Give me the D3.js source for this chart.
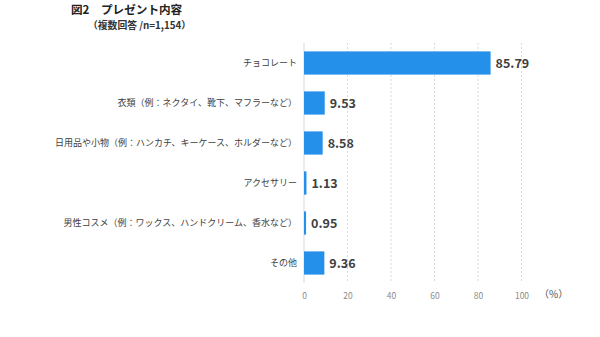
<!DOCTYPE html>
<html><head><meta charset="utf-8">
<script src="https://cdn.jsdelivr.net/npm/d3@7"></script>
<style>
html,body{margin:0;padding:0;background:#fff;}
svg{display:block;font-family:"Noto Sans CJK JP","Noto Sans",sans-serif;}
</style></head>
<body><svg id="c" width="600" height="337"></svg>
<script>
const categories = ["チョコレート","衣類（例：ネクタイ、靴下、マフラーなど）","日用品や小物（例：ハンカチ、キーケース、ホルダーなど）","アクセサリー","男性コスメ（例：ワックス、ハンドクリーム、香水など）","その他"];
const values = [85.79, 9.53, 8.58, 1.13, 0.95, 9.36];
const ticks = [0, 20, 40, 60, 80, 100];
const title = "図2　プレゼント内容";
const subtitle = "（複数回答 /n=1,154）";
const unit = "（%）";

const svg = d3.select("#c");
const x = d3.scaleLinear().domain([0, 100]).range([304, 521.5]);
const y = d3.scaleBand().domain(categories).range([43, 283]).paddingInner(0.42).paddingOuter(0.21);

// gridlines
svg.append("g").selectAll("line").data(ticks.slice(1)).join("line")
  .attr("x1", d => x(d)).attr("x2", d => x(d))
  .attr("y1", 43).attr("y2", 283)
  .attr("stroke", "#d9d9d9").attr("stroke-width", 1).attr("stroke-dasharray", "2,2");

// zero axis line
svg.append("line").attr("x1", x(0)).attr("x2", x(0)).attr("y1", 43).attr("y2", 283)
  .attr("stroke", "#d9d9d9").attr("stroke-width", 1);

// bars
svg.append("g").selectAll("rect").data(values).join("rect")
  .attr("x", x(0)).attr("y", (d, i) => y(categories[i]))
  .attr("width", d => x(d) - x(0)).attr("height", y.bandwidth())
  .attr("fill", "#2490ea");

// value labels
svg.append("g").selectAll("text").data(values).join("text")
  .attr("x", d => x(d) + 5).attr("y", (d, i) => y(categories[i]) + y.bandwidth() / 2)
  .attr("dy", "0.36em").attr("font-size", 12.5).attr("font-weight", "bold")
  .attr("fill", "#404040").text(d => d.toFixed(2));

// category labels
svg.append("g").selectAll("text").data(categories).join("text")
  .attr("x", 297).attr("y", d => y(d) + y.bandwidth() / 2)
  .attr("dy", "0.36em").attr("text-anchor", "end").attr("font-size", 9)
  .attr("fill", "#404040").text(d => d);

// x axis tick labels
const ax = d3.axisBottom(x).tickValues(ticks).tickSize(0).tickPadding(0);
const g = svg.append("g").attr("transform", "translate(0,293)").call(ax);
g.select(".domain").remove();
g.selectAll("text").attr("font-size", 8.5).attr("fill", "#8c8c8c").attr("font-family", '"Noto Sans CJK JP",sans-serif');

svg.append("text").attr("x", 539).attr("y", 298).attr("font-size", 10).attr("fill", "#555").text(unit);

// titles
svg.append("text").attr("x", 71).attr("y", 14).attr("font-size", 11.6).attr("font-weight", "bold").attr("fill", "#222").text(title);
svg.append("text").attr("x", 88).attr("y", 28.5).attr("font-size", 9.8).attr("font-weight", "bold").attr("fill", "#333").text(subtitle);
</script></body></html>
